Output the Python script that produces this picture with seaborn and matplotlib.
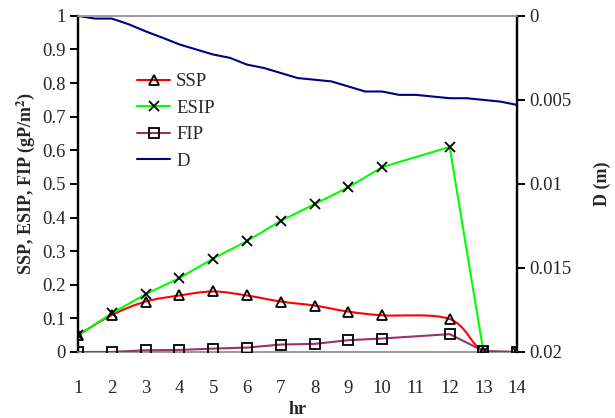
import numpy as np
import matplotlib
matplotlib.use("Agg")
import matplotlib.pyplot as plt
from matplotlib.path import Path
from matplotlib.patches import PathPatch
from matplotlib.lines import Line2D
import seaborn as sns

# hourly values (no reading at hour 11)
hours = [1, 2, 3, 4, 5, 6, 7, 8, 9, 10, 12, 13, 14]
ssp = [0.05, 0.11, 0.15, 0.168, 0.18, 0.168, 0.15, 0.138, 0.12, 0.109, 0.098, 0.0, 0.0]
esip = [0.05, 0.115, 0.172, 0.22, 0.278, 0.33, 0.39, 0.44, 0.49, 0.55, 0.61, 0.0, 0.0]
fip = [0.0, 0.0, 0.005, 0.006, 0.01, 0.013, 0.022, 0.024, 0.035, 0.04, 0.053, 0.003, 0.0]

# depth, half-hourly
d_hours = [1, 1.5, 2, 2.5, 3, 3.5, 4, 4.5, 5, 5.5, 6, 6.5, 7, 7.5, 8, 8.5, 9,
           9.5, 10, 10.5, 11, 11.5, 12, 12.5, 13, 13.5, 14]
depth = [0.0, 0.00016, 0.00016, 0.0005, 0.00092, 0.0013, 0.0017, 0.002, 0.0023,
         0.0025, 0.0029, 0.0031, 0.0034, 0.0037, 0.0038, 0.0039, 0.0042, 0.0045,
         0.0045, 0.0047, 0.0047, 0.0048, 0.0049, 0.0049, 0.005, 0.0051, 0.0053]

sns.set_theme(style="ticks")
plt.rcParams['font.family'] = ['Liberation Serif', 'DejaVu Serif']
plt.rcParams['mathtext.fontset'] = 'stix'

fig = plt.figure(figsize=(6.15, 4.18), dpi=100)
ax = fig.add_axes([0.127, 0.158, 0.714, 0.804])
ax2 = ax.twinx()

def smooth_path(xs, ys):
    # Excel-style smoothed line as cubic Bezier segments
    pts = np.column_stack([xs, ys])
    n = len(pts)
    verts = [pts[0]]
    codes = [Path.MOVETO]
    for i in range(n - 1):
        p0 = pts[max(i - 1, 0)]
        p1 = pts[i]
        p2 = pts[i + 1]
        p3 = pts[min(i + 2, n - 1)]
        c1 = p1 + (p2 - p0) / 6.0
        c2 = p2 - (p3 - p1) / 6.0
        verts += [c1, c2, p2]
        codes += [Path.CURVE4] * 3
    return Path(verts, codes)

ax.add_patch(PathPatch(smooth_path(hours, ssp), facecolor='none',
                       edgecolor='#FF0000', lw=1.5, zorder=3))
sns.lineplot(x=hours, y=ssp, ax=ax, linestyle='', marker='^', markersize=7,
             markerfacecolor='none', markeredgecolor='black', markeredgewidth=1.3,
             zorder=4)
sns.lineplot(x=hours, y=esip, ax=ax, color='#00FF00', lw=1.5, marker='x',
             markersize=7, markeredgecolor='black', markeredgewidth=1.3, zorder=3)
sns.lineplot(x=hours, y=fip, ax=ax, color='#993366', lw=1.5, marker='s',
             markersize=7, markerfacecolor='none', markeredgecolor='black',
             markeredgewidth=1.3, zorder=3)
sns.lineplot(x=d_hours, y=depth, ax=ax2, color='#000080', lw=1.5)

ax.set_xlim(1, 14)
ax.set_ylim(0, 1)
ax.set_yticks(np.arange(0, 1.01, 0.1))
ax.set_yticklabels(['0'] + [f'{v:.1f}' for v in np.arange(0.1, 0.95, 0.1)] + ['1'])
ax.set_xticks(range(1, 15))
ax2.set_ylim(0.02, 0)
ax2.set_yticks([0, 0.005, 0.01, 0.015, 0.02])
ax2.set_yticklabels(['0', '0.005', '0.01', '0.015', '0.02'])

for a in (ax, ax2):
    a.set_facecolor('none')
    for s in ('top', 'bottom'):
        a.spines[s].set_visible(True)
        a.spines[s].set_color('#999999')
        a.spines[s].set_linewidth(1.2)
    for s in ('left', 'right'):
        a.spines[s].set_visible(True)
        a.spines[s].set_color('black')
        a.spines[s].set_linewidth(1.6)
ax.set_zorder(ax2.get_zorder() + 1)

ax.tick_params(axis='y', direction='out', length=6, width=1.4,
               labelsize=13.5, left=True, right=False, pad=3, color='black')
ax.tick_params(axis='x', length=0, labelsize=13.5, pad=20, top=False)
ax2.tick_params(axis='y', direction='out', length=6, width=1.4, labelsize=13.5,
                right=True, left=False, pad=3, color='black')

ax.set_xlabel('hr', fontweight='bold', fontsize=13, labelpad=3)
ax.set_ylabel('SSP, ESIP, FIP (gP/m$^{\\mathbf{2}}$)', fontweight='bold',
              fontsize=13, labelpad=4)
ax2.set_ylabel('D (m)', fontweight='bold', fontsize=13, labelpad=16)

handles = [
    Line2D([], [], color='#FF0000', lw=1.5, marker='^', markersize=7,
           markerfacecolor='none', markeredgecolor='black', markeredgewidth=1.3),
    Line2D([], [], color='#00FF00', lw=1.5, marker='x', markersize=7,
           markeredgecolor='black', markeredgewidth=1.3),
    Line2D([], [], color='#993366', lw=1.5, marker='s', markersize=7,
           markerfacecolor='none', markeredgecolor='black', markeredgewidth=1.3),
    Line2D([], [], color='#000080', lw=1.5),
]
ax.legend(handles, ['SSP', 'ESIP', 'FIP', 'D'], loc='upper left',
          bbox_to_anchor=(0.095, 0.88), frameon=False, fontsize=13.5,
          handlelength=1.8, handletextpad=0.3, labelspacing=0.5)

fig.savefig('out.png', dpi=100)
